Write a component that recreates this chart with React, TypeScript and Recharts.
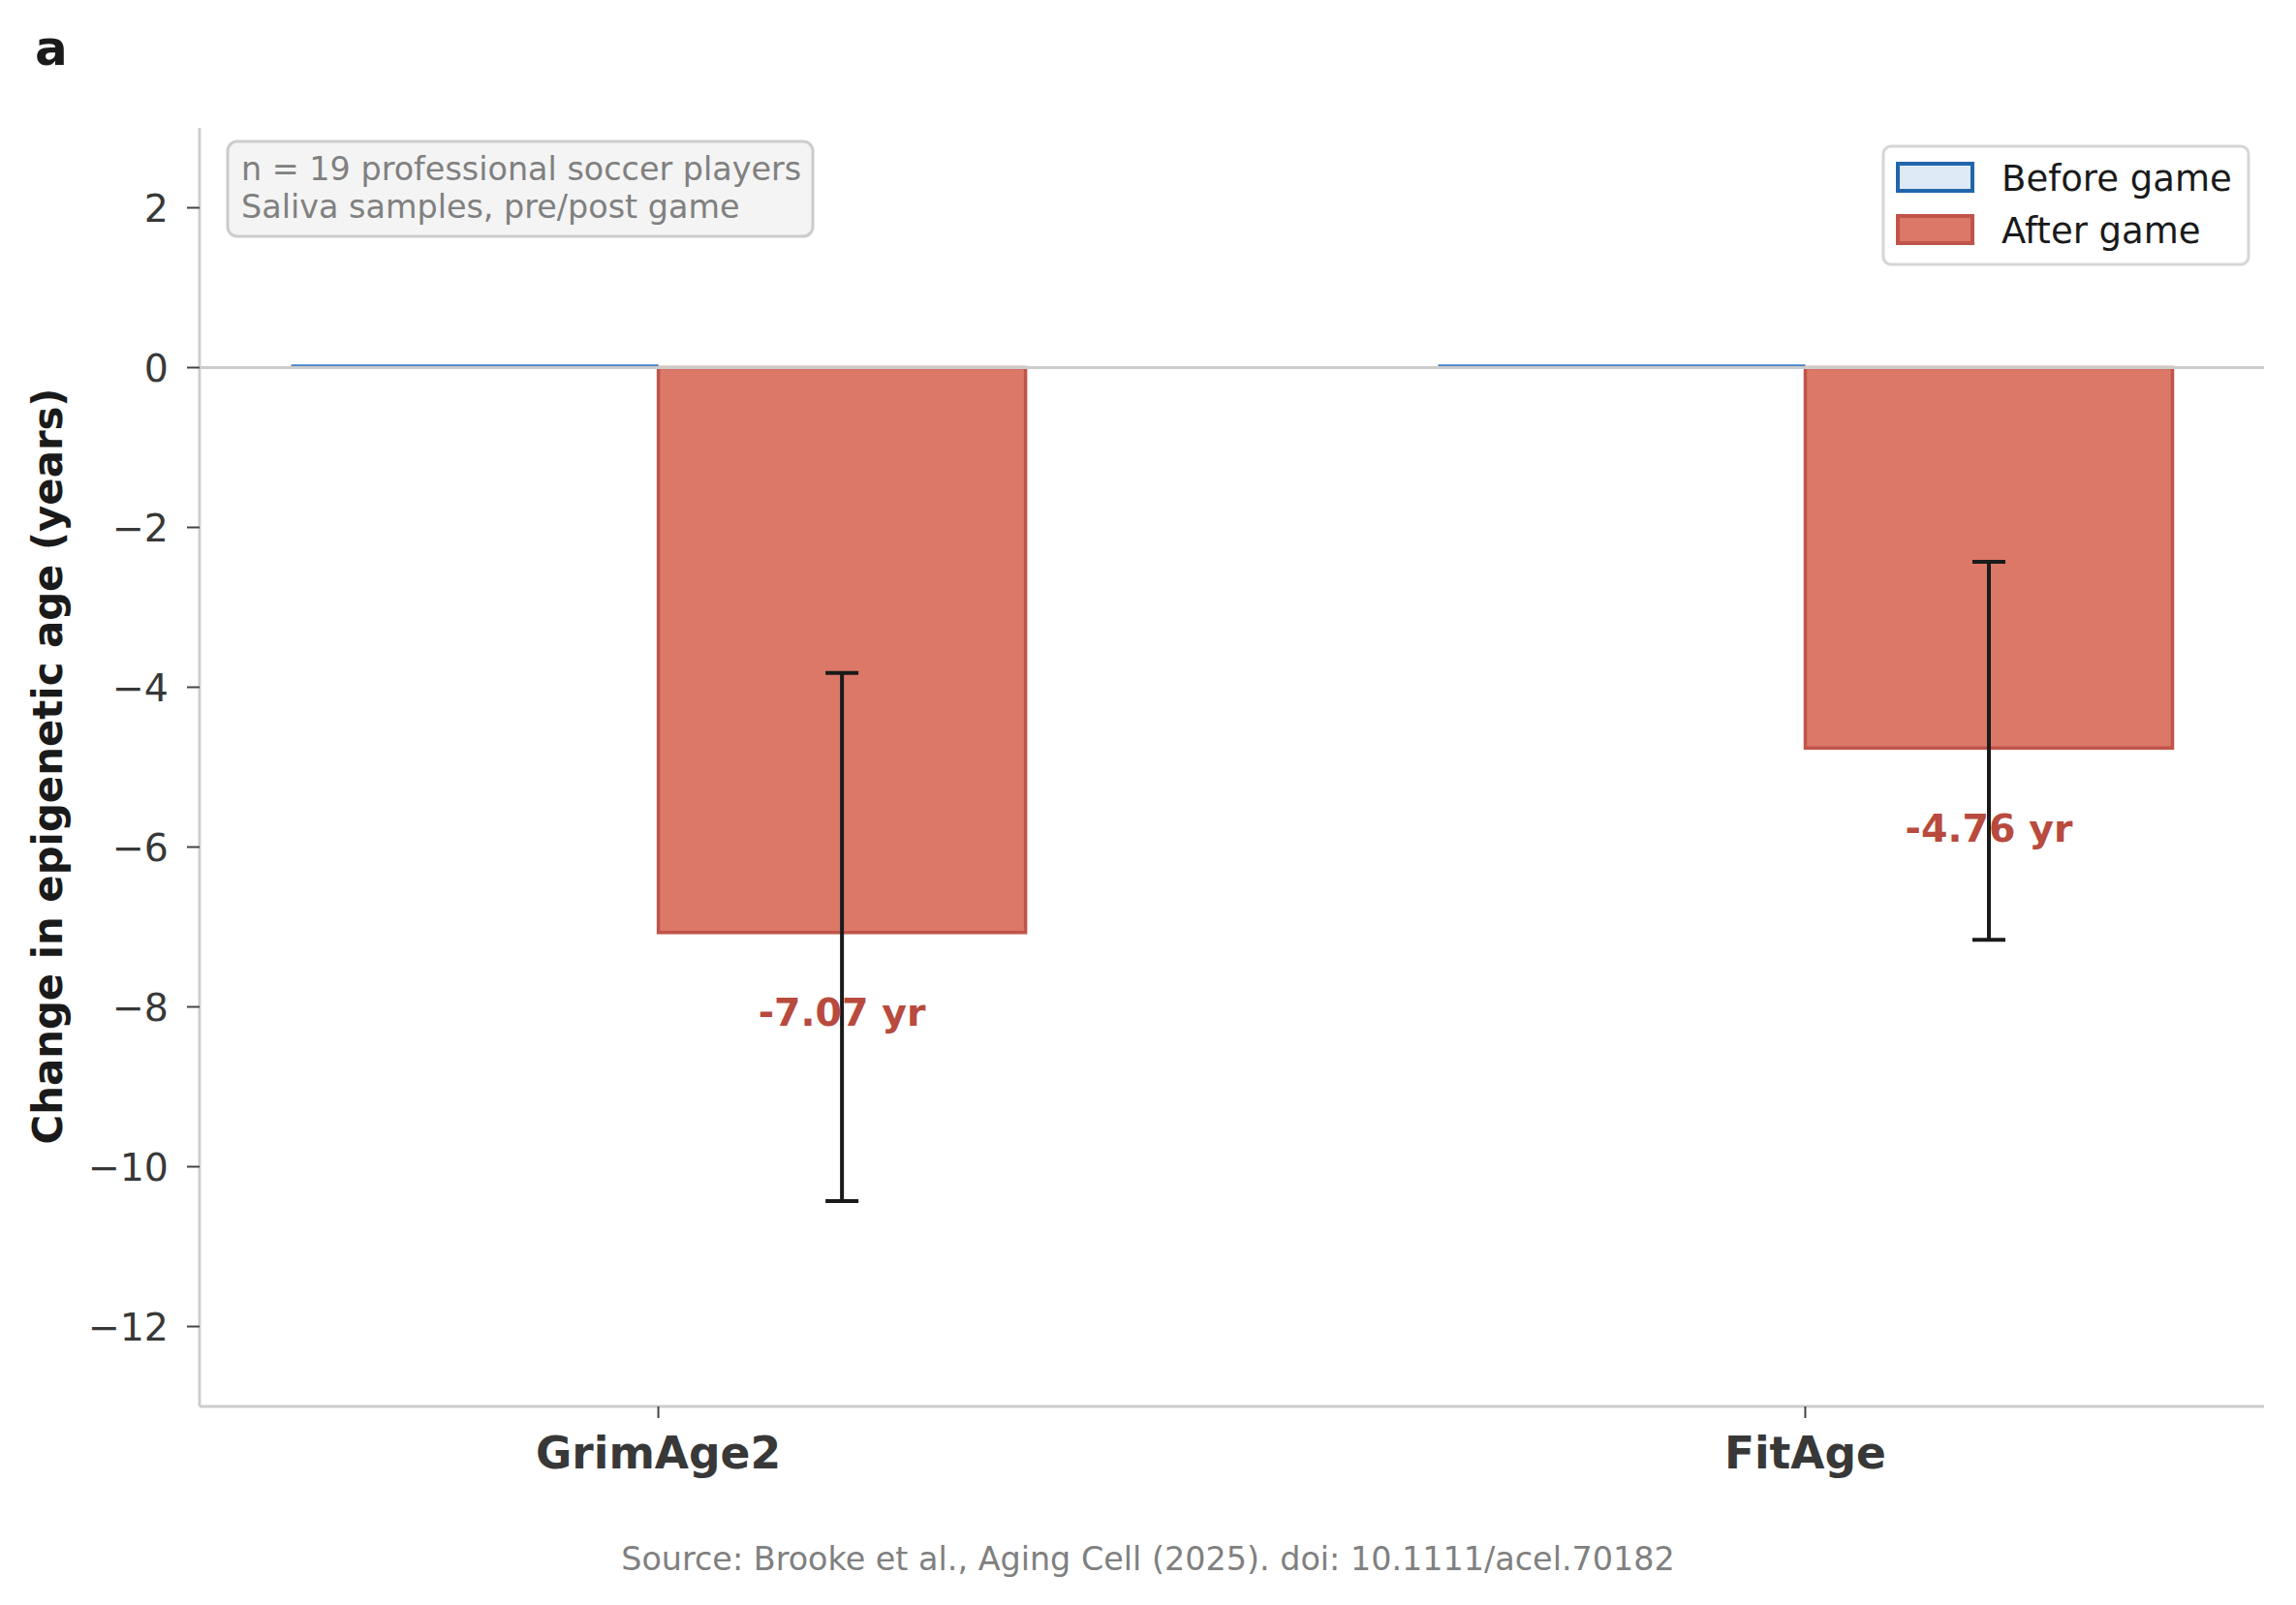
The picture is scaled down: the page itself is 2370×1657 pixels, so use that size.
import React from "react";
import { BarChart, Bar, XAxis, YAxis, ReferenceLine, ErrorBar, LabelList } from "recharts";

const CATEGORIES = ["GrimAge2", "FitAge"];
const BEFORE_VALUES = [0, 0];
const AFTER_VALUES = [-7.07, -4.76];
const AFTER_ERR_LOW = [3.36, 2.4];
const AFTER_ERR_HIGH = [3.25, 2.33];
const Y_TICKS = [-12, -10, -8, -6, -4, -2, 0, 2];
const X_TICKS = [0, 1];
const NOTE_LINES = ["n = 19 professional soccer players", "Saliva samples, pre/post game"];
const LEGEND_LABELS = ["Before game", "After game"];
const SOURCE_TEXT = "Source: Brooke et al., Aging Cell (2025). doi: 10.1111/acel.70182";

const W = 2370;
const H = 1657;
const PLOT_TOP = 132;
const PLOT_BOTTOM = 1452;
const PLOT_LEFT = 206;
const PLOT_RIGHT = 2337;
const Y_DOMAIN: [number, number] = [-13, 3];
const UNIT_PX = (PLOT_BOTTOM - PLOT_TOP) / (Y_DOMAIN[1] - Y_DOMAIN[0]);
const BAR_SIZE = Math.round(0.32 * ((PLOT_RIGHT - PLOT_LEFT) / 1.8));

const FONT = "DejaVu Sans";
const BEFORE_FILL = "#dde9f5";
const BEFORE_EDGE = "#2166ac";
const AFTER_FILL = "#dc7868";
const AFTER_EDGE = "#c0544a";
const LABEL_RED = "#b84a3e";

const data = CATEGORIES.map((name, i) => ({
  name,
  pos: i,
  before: BEFORE_VALUES[i],
  after: AFTER_VALUES[i],
  afterErr: [AFTER_ERR_LOW[i], AFTER_ERR_HIGH[i]],
}));

const minus = (v: number) => String(v).replace("-", "\u2212");

// zero-height "before" bars only show their edge along the zero line
const BeforeShape = (props: any) => {
  const { x, y, width, height } = props;
  const top = Math.min(y, y + height);
  return <line x1={x} x2={x + width} y1={top - 2.2} y2={top - 2.2} stroke="#3f7fc6" strokeWidth={2.2} />;
};

const ValueLabel = (props: any) => {
  const { x, y, width, height, value } = props;
  const bottom = Math.max(y, y + height);
  const cy = bottom + UNIT_PX;
  return (
    <text x={x + width / 2} y={cy + 14} textAnchor="middle" fill={LABEL_RED} fontSize={39.5} fontWeight="bold" fontFamily={FONT}>
      {`${Number(value).toFixed(2)} yr`}
    </text>
  );
};

export default function App() {
  return (
    <div style={{ position: "absolute", left: 0, top: 0, width: W, height: H, background: "#fff", fontFamily: FONT }}>
      <BarChart
        width={W}
        height={H}
        data={data}
        barGap={0}
        barSize={BAR_SIZE}
        margin={{ top: PLOT_TOP, right: W - PLOT_RIGHT, bottom: H - PLOT_BOTTOM - 100, left: PLOT_LEFT - 120 }}
      >
        <XAxis
          dataKey="pos"
          type="number"
          domain={[-0.4, 1.4]}
          allowDataOverflow
          ticks={X_TICKS}
          tickCount={2}
          tickFormatter={(v: number) => CATEGORIES[v] ?? ""}
          height={100}
          axisLine={{ stroke: "#cccccc", strokeWidth: 2.8 }}
          tickLine={{ stroke: "#444444", strokeWidth: 2 }}
          tickSize={12}
          tickMargin={20}
          tick={{ fill: "#383838", fontSize: 45.5, fontWeight: "bold", fontFamily: FONT }}
        />
        <YAxis
          type="number"
          domain={Y_DOMAIN}
          allowDataOverflow
          ticks={Y_TICKS}
          tickFormatter={minus}
          width={120}
          axisLine={{ stroke: "#cccccc", strokeWidth: 2.8 }}
          tickLine={{ stroke: "#444444", strokeWidth: 2 }}
          tickSize={13}
          tickMargin={19}
          tick={{ fill: "#383838", fontSize: 39.5, fontFamily: FONT }}
        />
        <Bar dataKey="before" fill={BEFORE_FILL} stroke={BEFORE_EDGE} shape={BeforeShape} isAnimationActive={false} />
        <Bar dataKey="after" fill={AFTER_FILL} stroke={AFTER_EDGE} strokeWidth={3.5} isAnimationActive={false}>
          <ErrorBar dataKey="afterErr" width={17} strokeWidth={4} stroke="#1a1a1a" direction="y" isAnimationActive={false} />
          <LabelList dataKey="after" content={ValueLabel} />
        </Bar>
        <ReferenceLine y={0} stroke="#cccccc" strokeWidth={2.8} />
      </BarChart>

      <svg width={W} height={H} style={{ position: "absolute", left: 0, top: 0, pointerEvents: "none" }}>
        <text x={36} y={67} fontSize={50} fontWeight="bold" fill="#1a1a1a" fontFamily={FONT}>a</text>

        <text
          transform={`translate(49, 791) rotate(-90)`}
          textAnchor="middle"
          dominantBaseline="central"
          fontSize={41.8}
          fontWeight="bold"
          fill="#1a1a1a"
          fontFamily={FONT}
        >
          Change in epigenetic age (years)
        </text>

        <rect x={235} y={146} width={604} height={98} rx={10} fill="#f4f4f4" stroke="#cccccc" strokeWidth={3} />
        {NOTE_LINES.map((t, i) => (
          <text key={t} x={249} y={186 + i * 38.5} fontSize={33.4} fill="#808080" fontFamily={FONT}>{t}</text>
        ))}

        <rect x={1944} y={151} width={377} height={122} rx={8} fill="#ffffff" stroke="#d6d6d6" strokeWidth={3} />
        <rect x={1959} y={169} width={77} height={28} fill={BEFORE_FILL} stroke={BEFORE_EDGE} strokeWidth={4} />
        <rect x={1959} y={223} width={77} height={28} fill={AFTER_FILL} stroke={AFTER_EDGE} strokeWidth={4} />
        {LEGEND_LABELS.map((t, i) => (
          <text key={t} x={2066} y={197 + i * 53.5} fontSize={37} fill="#1a1a1a" fontFamily={FONT}>{t}</text>
        ))}

        <text x={1185} y={1621} textAnchor="middle" fontSize={33.4} fill="#808080" fontFamily={FONT}>{SOURCE_TEXT}</text>
      </svg>
    </div>
  );
}
